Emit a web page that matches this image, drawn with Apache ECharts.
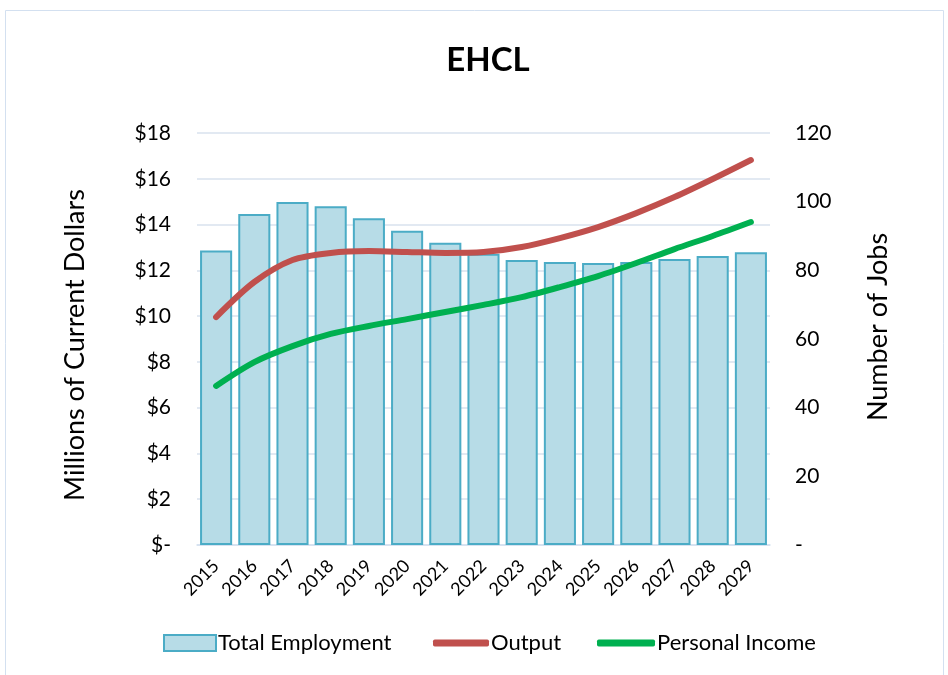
<!DOCTYPE html>
<html>
<head>
<meta charset="utf-8">
<script src="https://cdn.jsdelivr.net/npm/echarts@6/dist/echarts.min.js"></script>
<style>
html,body{margin:0;padding:0;background:#fff;}
#main{width:948px;height:675px;}
</style>
</head>
<body>
<div id="main"></div>
<script>
var years = ['2015','2016','2017','2018','2019','2020','2021','2022','2023','2024','2025','2026','2027','2028','2029'];
var totalEmployment = [85.8, 96.4, 99.9, 98.7, 95.2, 91.5, 88.0, 84.8, 83.0, 82.4, 82.1, 82.4, 83.3, 84.2, 85.3];
var output = [9.96, 11.49, 12.45, 12.76, 12.84, 12.80, 12.76, 12.80, 13.02, 13.41, 13.89, 14.50, 15.20, 15.99, 16.82];
var personalIncome = [6.95, 7.99, 8.69, 9.22, 9.57, 9.87, 10.18, 10.49, 10.83, 11.27, 11.75, 12.32, 12.93, 13.50, 14.11];
var dollarTicks = [0, 2, 4, 6, 8, 10, 12, 14, 16, 18];
var jobTicks = [0, 20, 40, 60, 80, 100, 120];

var FONT = 'Lato, "Open Sans", sans-serif';
var chart = echarts.init(document.getElementById('main'), null, {renderer: 'canvas'});
var legendBase = {
  orient: 'horizontal', top: 627, itemGap: 0,
  textStyle: {fontFamily: FONT, fontSize: 22, color: '#000', padding: [0,0,0,-3]},
  selectedMode: false
};
chart.setOption({
  animation: false,
  backgroundColor: '#fff',
  graphic: [{
    type: 'rect', shape: {x: 5.5, y: 10.5, width: 938, height: 700},
    style: {fill: 'none', stroke: '#D3E0F0', lineWidth: 1}, silent: true
  }],
  title: {
    text: 'EHCL', left: 483, textAlign: 'center', top: 39,
    textStyle: {fontFamily: FONT, fontSize: 33, fontWeight: 'bold', color: '#000'}
  },
  legend: [
    Object.assign({}, legendBase, {left: 158, itemWidth: 52, itemHeight: 16,
      data: [{name: 'Total Employment', icon: 'rect'}]}),
    Object.assign({}, legendBase, {left: 428, itemWidth: 56, itemHeight: 7,
      data: [{name: 'Output', icon: 'roundRect', itemStyle: {color: '#C0504D', borderWidth: 0}}]}),
    Object.assign({}, legendBase, {left: 592, itemWidth: 58, itemHeight: 7,
      data: [{name: 'Personal Income', icon: 'roundRect', itemStyle: {color: '#00B050', borderWidth: 0}}]})
  ],
  grid: {left: 197, right: 178, top: 133, bottom: 130, containLabel: false},
  xAxis: {
    type: 'category', data: years, boundaryGap: true,
    axisLine: {show: true, lineStyle: {color: '#D3E0F0', width: 1.5}},
    axisTick: {show: false},
    axisLabel: {rotate: 45, fontFamily: FONT, fontSize: 18, color: '#000', margin: 18, interval: 0}
  },
  yAxis: [{
    type: 'value', min: 0, max: 18, interval: 2, position: 'left',
    name: 'Millions of Current Dollars', nameLocation: 'middle', nameGap: 108, nameRotate: 90,
    nameTextStyle: {fontFamily: FONT, fontSize: 27, color: '#000', padding: [0, 12, 0, 0]},
    axisLine: {show: false}, axisTick: {show: false},
    axisLabel: {fontFamily: FONT, fontSize: 21, color: '#000', margin: 26,
      formatter: function (v) { return v === 0 ? '$-' : '$' + v; }},
    splitLine: {show: true, lineStyle: {color: '#D9E2EE', width: 1.5}}
  }, {
    type: 'value', min: 0, max: 120, interval: 20, position: 'right',
    name: 'Number of Jobs', nameLocation: 'middle', nameGap: 95, nameRotate: 90,
    nameTextStyle: {fontFamily: FONT, fontSize: 27, color: '#000', padding: [0, 0, 0, 24]},
    axisLine: {show: false}, axisTick: {show: false},
    axisLabel: {fontFamily: FONT, fontSize: 21, color: '#000', margin: 25,
      formatter: function (v) { return v === 0 ? '-' : String(v); }},
    splitLine: {show: false}
  }],
  series: [{
    name: 'Total Employment', type: 'bar', yAxisIndex: 1, data: totalEmployment,
    barWidth: '84%',
    itemStyle: {color: '#B7DCE7', borderColor: '#4BACC6', borderWidth: 2}
  }, {
    name: 'Output', type: 'line', yAxisIndex: 0, data: output,
    smooth: 0.3, symbol: 'none',
    lineStyle: {color: '#C0504D', width: 6, cap: 'round', join: 'round'},
    itemStyle: {color: '#C0504D'}
  }, {
    name: 'Personal Income', type: 'line', yAxisIndex: 0, data: personalIncome,
    smooth: 0.3, symbol: 'none',
    lineStyle: {color: '#00B050', width: 6, cap: 'round', join: 'round'},
    itemStyle: {color: '#00B050'}
  }]
});
</script>
</body>
</html>
